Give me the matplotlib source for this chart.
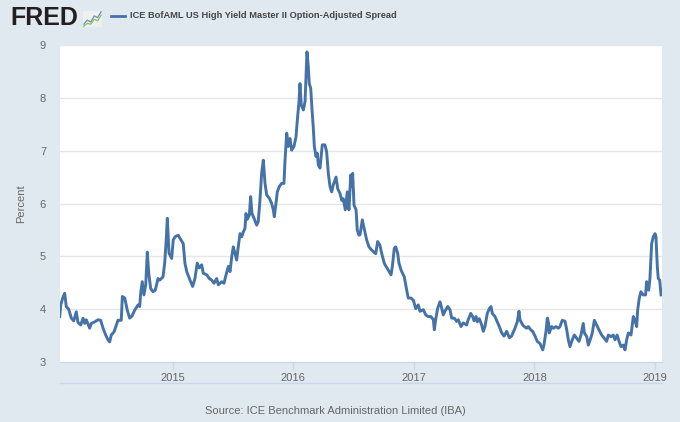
import numpy as np
import matplotlib
matplotlib.use('Agg')
import matplotlib.pyplot as plt

# ICE BofAML US High Yield Master II OAS (decimal years, percent)
years = [2014.064, 2014.072, 2014.091, 2014.105, 2014.118, 2014.138, 2014.160, 2014.180,
         2014.201, 2014.215, 2014.238, 2014.257, 2014.271, 2014.284, 2014.312, 2014.326,
         2014.354, 2014.381, 2014.403, 2014.423, 2014.445, 2014.464, 2014.478, 2014.491,
         2014.514, 2014.533, 2014.547, 2014.574, 2014.583, 2014.603, 2014.624, 2014.644,
         2014.663, 2014.685, 2014.713, 2014.727, 2014.735, 2014.748, 2014.762, 2014.777,
         2014.782, 2014.790, 2014.802, 2014.818, 2014.837, 2014.856, 2014.879, 2014.893,
         2014.920, 2014.934, 2014.947, 2014.956, 2014.970, 2014.992, 2015.005, 2015.020,
         2015.047, 2015.061, 2015.088, 2015.102, 2015.117, 2015.144, 2015.166, 2015.185,
         2015.204, 2015.221, 2015.241, 2015.254, 2015.283, 2015.304, 2015.324, 2015.343,
         2015.365, 2015.379, 2015.407, 2015.426, 2015.443, 2015.462, 2015.476, 2015.490,
         2015.503, 2015.517, 2015.531, 2015.544, 2015.559, 2015.573, 2015.586, 2015.600,
         2015.608, 2015.619, 2015.636, 2015.647, 2015.658, 2015.675, 2015.697, 2015.710,
         2015.724, 2015.738, 2015.752, 2015.766, 2015.780, 2015.802, 2015.821, 2015.835,
         2015.843, 2015.857, 2015.868, 2015.884, 2015.904, 2015.923, 2015.932, 2015.946,
         2015.959, 2015.973, 2015.987, 2016.006, 2016.023, 2016.034, 2016.048, 2016.056,
         2016.067, 2016.084, 2016.098, 2016.106, 2016.114, 2016.125, 2016.133, 2016.145,
         2016.156, 2016.166, 2016.175, 2016.189, 2016.200, 2016.208, 2016.222, 2016.230,
         2016.241, 2016.263, 2016.277, 2016.291, 2016.305, 2016.319, 2016.332, 2016.355,
         2016.369, 2016.388, 2016.402, 2016.415, 2016.432, 2016.448, 2016.462, 2016.477,
         2016.485, 2016.493, 2016.504, 2016.521, 2016.531, 2016.545, 2016.554, 2016.573,
         2016.581, 2016.609, 2016.628, 2016.650, 2016.664, 2016.684, 2016.700, 2016.719,
         2016.733, 2016.755, 2016.769, 2016.788, 2016.811, 2016.822, 2016.838, 2016.850,
         2016.866, 2016.877, 2016.894, 2016.921, 2016.941, 2016.954, 2016.977, 2016.996,
         2017.016, 2017.037, 2017.051, 2017.079, 2017.099, 2017.120, 2017.142, 2017.162,
         2017.170, 2017.181, 2017.198, 2017.217, 2017.231, 2017.244, 2017.258, 2017.281,
         2017.300, 2017.314, 2017.335, 2017.355, 2017.369, 2017.391, 2017.410, 2017.438,
         2017.451, 2017.472, 2017.488, 2017.499, 2017.516, 2017.526, 2017.543, 2017.563,
         2017.576, 2017.590, 2017.609, 2017.626, 2017.640, 2017.651, 2017.673, 2017.692,
         2017.709, 2017.729, 2017.748, 2017.770, 2017.792, 2017.811, 2017.839, 2017.858,
         2017.872, 2017.880, 2017.903, 2017.916, 2017.936, 2017.949, 2017.969, 2017.986,
         2018.005, 2018.024, 2018.046, 2018.069, 2018.079, 2018.096, 2018.107, 2018.118,
         2018.123, 2018.143, 2018.157, 2018.179, 2018.198, 2018.212, 2018.231, 2018.254,
         2018.268, 2018.281, 2018.295, 2018.314, 2018.331, 2018.350, 2018.370, 2018.386,
         2018.405, 2018.414, 2018.434, 2018.447, 2018.467, 2018.480, 2018.497, 2018.516,
         2018.535, 2018.558, 2018.579, 2018.599, 2018.613, 2018.635, 2018.654, 2018.668,
         2018.686, 2018.702, 2018.718, 2018.737, 2018.751, 2018.765, 2018.779, 2018.801,
         2018.820, 2018.834, 2018.848, 2018.856, 2018.869, 2018.883, 2018.902, 2018.922,
         2018.930, 2018.948, 2018.958, 2018.972, 2018.986, 2019.000, 2019.008, 2019.019,
         2019.027, 2019.039, 2019.050]

spread = [3.86, 4.08, 4.23, 4.30, 4.05, 4.00, 3.83, 3.78,
          3.95, 3.75, 3.70, 3.83, 3.73, 3.80, 3.64, 3.73,
          3.76, 3.80, 3.79, 3.64, 3.51, 3.42, 3.38, 3.51,
          3.57, 3.70, 3.79, 3.79, 4.24, 4.21, 3.98, 3.83,
          3.87, 3.98, 4.08, 4.05, 4.30, 4.52, 4.27, 4.46,
          4.70, 5.08, 4.68, 4.39, 4.33, 4.36, 4.58, 4.55,
          4.61, 4.87, 5.31, 5.72, 5.06, 4.96, 5.31, 5.37,
          5.40, 5.34, 5.24, 4.87, 4.71, 4.55, 4.43, 4.58,
          4.87, 4.78, 4.84, 4.68, 4.65, 4.58, 4.55, 4.49,
          4.58, 4.46, 4.52, 4.49, 4.65, 4.81, 4.71, 4.99,
          5.18, 5.06, 4.93, 5.18, 5.43, 5.37, 5.46, 5.53,
          5.81, 5.70, 5.78, 6.13, 5.81, 5.72, 5.59, 5.66,
          6.06, 6.57, 6.82, 6.38, 6.16, 6.10, 6.00, 5.88,
          5.75, 6.00, 6.22, 6.32, 6.38, 6.38, 6.82, 7.33,
          7.08, 7.23, 7.01, 7.08, 7.26, 7.58, 7.93, 8.27,
          7.86, 7.77, 7.93, 8.40, 8.87, 8.59, 8.27, 8.18,
          7.77, 7.45, 7.08, 6.89, 6.95, 6.73, 6.67, 6.85,
          7.11, 7.11, 6.98, 6.57, 6.32, 6.22, 6.35, 6.50,
          6.28, 6.19, 6.06, 6.09, 5.88, 6.22, 5.88, 6.54,
          6.32, 6.57, 5.97, 5.88, 5.50, 5.40, 5.41, 5.69,
          5.60, 5.31, 5.18, 5.12, 5.09, 5.05, 5.28, 5.21,
          5.06, 4.87, 4.81, 4.74, 4.65, 4.81, 5.15, 5.18,
          5.06, 4.87, 4.74, 4.61, 4.36, 4.21, 4.21, 4.17,
          4.01, 4.08, 3.96, 3.99, 3.89, 3.86, 3.86, 3.80,
          3.61, 3.80, 4.02, 4.14, 4.02, 3.89, 3.96, 4.05,
          3.99, 3.83, 3.83, 3.77, 3.80, 3.67, 3.74, 3.70,
          3.80, 3.92, 3.86, 3.78, 3.86, 3.76, 3.82, 3.70,
          3.58, 3.67, 3.92, 4.01, 4.05, 3.92, 3.86, 3.76,
          3.67, 3.55, 3.49, 3.58, 3.46, 3.49, 3.64, 3.76,
          3.96, 3.80, 3.70, 3.67, 3.64, 3.67, 3.61, 3.58,
          3.49, 3.39, 3.35, 3.23, 3.32, 3.58, 3.83, 3.73,
          3.55, 3.67, 3.64, 3.67, 3.64, 3.67, 3.79, 3.77,
          3.61, 3.42, 3.29, 3.42, 3.51, 3.45, 3.39, 3.51,
          3.73, 3.55, 3.48, 3.32, 3.45, 3.55, 3.79, 3.70,
          3.61, 3.51, 3.45, 3.39, 3.51, 3.48, 3.51, 3.42,
          3.51, 3.39, 3.29, 3.32, 3.23, 3.42, 3.55, 3.51,
          3.86, 3.79, 3.67, 3.98, 4.20, 4.33, 4.27, 4.27,
          4.52, 4.36, 4.58, 5.24, 5.37, 5.43, 5.37, 4.81,
          4.58, 4.55, 4.27]

xticks = [2015, 2016, 2017, 2018, 2019]
yticks = [3, 4, 5, 6, 7, 8, 9]

series_name = 'ICE BofAML US High Yield Master II Option-Adjusted Spread'
source = 'Source: ICE Benchmark Administration Limited (IBA)'

bg = '#e1e9f0'
blue = '#4572a7'
W, H = 680, 422

plt.rcParams['font.family'] = ['Liberation Sans', 'DejaVu Sans']

fig = plt.figure(figsize=(W/100, H/100), dpi=100, facecolor=bg)
ax = fig.add_axes([60/W, 1-362/H, 602/W, 317/H])
ax.set_facecolor('white')
ax.plot(years, spread, color=blue, lw=2.1, solid_joinstyle='round')

ax.set_xlim(2014.066, 2019.058)
ax.set_ylim(3, 9)
ax.set_xticks(xticks)
ax.set_xticklabels([str(t) for t in xticks])
ax.set_yticks(yticks)
ax.grid(axis='y', color='#e6e6e6', lw=1)
ax.set_axisbelow(True)
for s in ['top', 'right', 'left']:
    ax.spines[s].set_visible(False)
ax.spines['bottom'].set_color('#ccd6eb')
ax.tick_params(axis='x', length=6, width=1, color='#ccd6eb', labelcolor='#666666', labelsize=8, pad=2)
ax.tick_params(axis='y', length=0, labelcolor='#666666', labelsize=8, pad=10)
ax.set_ylabel('Percent', color='#666666', fontsize=8, labelpad=10)

# navigator line under the axis
fig.add_artist(plt.Line2D([60/W, 662/W], [1-383/H, 1-383/H], color='#ccd6eb', lw=1))

# header
fig.text(10/W, 1-18/H, 'FRED', fontsize=18, fontweight='bold', color='#231f20', va='center', ha='left')
icon = fig.add_axes([83/W, 1-27/H, 19/W, 16/H])
icon.set_facecolor('#eef0ee')
icon.plot([0, 1, 2, 3, 4, 5], [1, 2, 1.5, 3, 2.6, 4], color='#6a8fc0', lw=0.9)
icon.plot([0, 1, 2, 3, 4, 5], [0.5, 1.2, 1.0, 2.2, 1.8, 3.2], color='#8fbf5a', lw=0.9)
icon.set_xticks([]); icon.set_yticks([])
for s in icon.spines.values():
    s.set_visible(False)
fig.add_artist(plt.Line2D([111/W, 125/W], [1-16/H, 1-16/H], color=blue, lw=2))
fig.text(130/W, 1-16/H, series_name, fontsize=6.7, fontweight='bold', color='#444444', va='center', ha='left')

fig.text(335/W, 1-411/H, source, fontsize=8, color='#666666', va='center', ha='center')

fig.savefig('out.png', dpi=100, facecolor=bg)
